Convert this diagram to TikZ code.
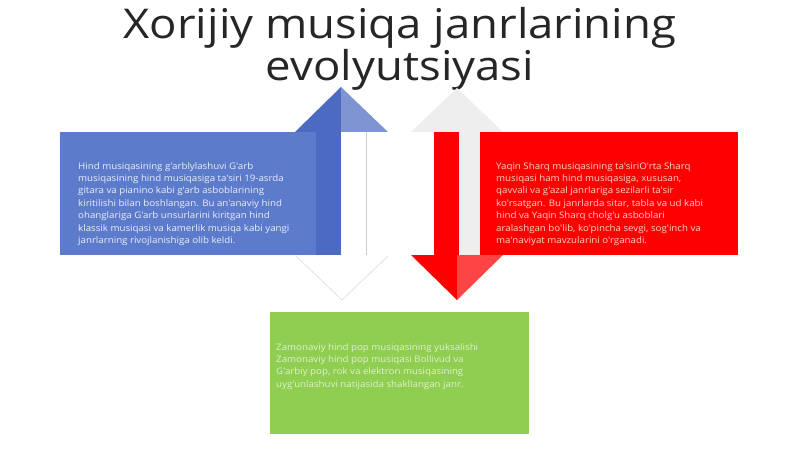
\documentclass[tikz,border=0pt]{standalone}
\usepackage{fontspec}
\setmainfont{Open Sans}
\newfontfamily\headfont[FakeStretch=1.11]{Open Sans}
\newfontfamily\bodyfont[FakeStretch=1.08]{Open Sans}
\usepackage{xcolor}
\usetikzlibrary{positioning}

\definecolor{titlegray}{RGB}{38,38,38}
\definecolor{hindblue}{RGB}{92,123,203}
\definecolor{shaftblue}{RGB}{76,106,193}
\definecolor{headblue}{RGB}{127,149,211}
\definecolor{sharqred}{RGB}{255,0,0}
\definecolor{headred}{RGB}{255,68,68}
\definecolor{popgreen}{RGB}{143,206,80}
\definecolor{palegray}{RGB}{238,238,238}
\definecolor{ghostgray}{RGB}{205,205,205}

\begin{document}
\begin{tikzpicture}[
    x=1pt, y=-1pt,
    % styles
    infobox/.style={
        rectangle, anchor=north west, inner sep=0pt
    },
    infotext/.style={
        anchor=north west, inner sep=0pt, align=left,
        font=\bodyfont\fontsize{9}{12.4}\selectfont
    },
    headline/.style={
        anchor=north, align=center, inner sep=0pt, text=titlegray,
        font=\headfont\fontsize{41}{42}\selectfont
    },
    ghostline/.style={
        draw=ghostgray, line width=0.8pt
    }
]
    \useasboundingbox[fill=white] (0,0) rectangle (800,449);

    % --- 1. TITLE ---
    \node[headline] (title) at (400,7) {Xorijiy musiqa janrlarining\\evolyutsiyasi};

    % --- 2. INFO BOXES ---
    \node[infobox, fill=hindblue, minimum width=281pt, minimum height=123pt] (hind_box) at (60,132) {};
    \node[infobox, fill=sharqred, minimum width=258pt, minimum height=123pt] (sharq_box) at (480,132) {};
    \node[infobox, fill=popgreen, minimum width=259pt, minimum height=122pt] (pop_box) at (270,312) {};

    % --- 3. UP ARROW (blue) ---
    \fill[shaftblue] (316,132) rectangle (341,255);
    \draw[ghostline] (366,132) -- (366,255);
    \fill[shaftblue] (295,132) -- (341,87) -- (341,132) -- cycle;
    \fill[headblue] (341,87) -- (388,132) -- (341,132) -- cycle;
    \draw[ghostline, draw=ghostgray!60] (296,256) -- (342,300) -- (388,256);

    % --- 4. DOWN ARROW (red) ---
    \fill[palegray] (411,132) -- (457,88) -- (503,132) -- cycle;
    \fill[palegray] (459,132) rectangle (480,255);
    \fill[sharqred] (434,132) rectangle (459,255);
    \fill[sharqred] (411,255) -- (457,300) -- (457,255) -- cycle;
    \fill[headred] (457,255) -- (457,300) -- (503,255) -- cycle;

    % --- 5. TEXTS ---
    \node[infotext, text=white!88!hindblue, below right=30pt and 18pt of hind_box.north west] (hind_text) {
        Hind musiqasining g'arblylashuvi G'arb\\
        musiqasining hind musiqasiga ta'siri 19-asrda\\
        gitara va pianino kabi g'arb asboblarining\\
        kiritilishi bilan boshlangan. Bu an'anaviy hind\\
        ohanglariga G'arb unsurlarini kiritgan hind\\
        klassik musiqasi va kamerlik musiqa kabi yangi\\
        janrlarning rivojlanishiga olib keldi.
    };

    \node[infotext, text=white!82!sharqred, below right=30pt and 16pt of sharq_box.north west] (sharq_text) {
        Yaqin Sharq musiqasining ta'siriO'rta Sharq\\
        musiqasi ham hind musiqasiga, xususan,\\
        qavvali va g'azal janrlariga sezilarli ta'sir\\
        ko'rsatgan. Bu janrlarda sitar, tabla va ud kabi\\
        hind va Yaqin Sharq cholg'u asboblari\\
        aralashgan bo'lib, ko'pincha sevgi, sog'inch va\\
        ma'naviyat mavzularini o'rganadi.
    };

    \node[infotext, text=white!72!popgreen, below right=31pt and 6pt of pop_box.north west] (pop_text) {
        Zamonaviy hind pop musiqasining yuksalishi\\
        Zamonaviy hind pop musiqasi Bollivud va\\
        G'arbiy pop, rok va elektron musiqasining\\
        uyg'unlashuvi natijasida shakllangan janr.
    };

\end{tikzpicture}
\end{document}
